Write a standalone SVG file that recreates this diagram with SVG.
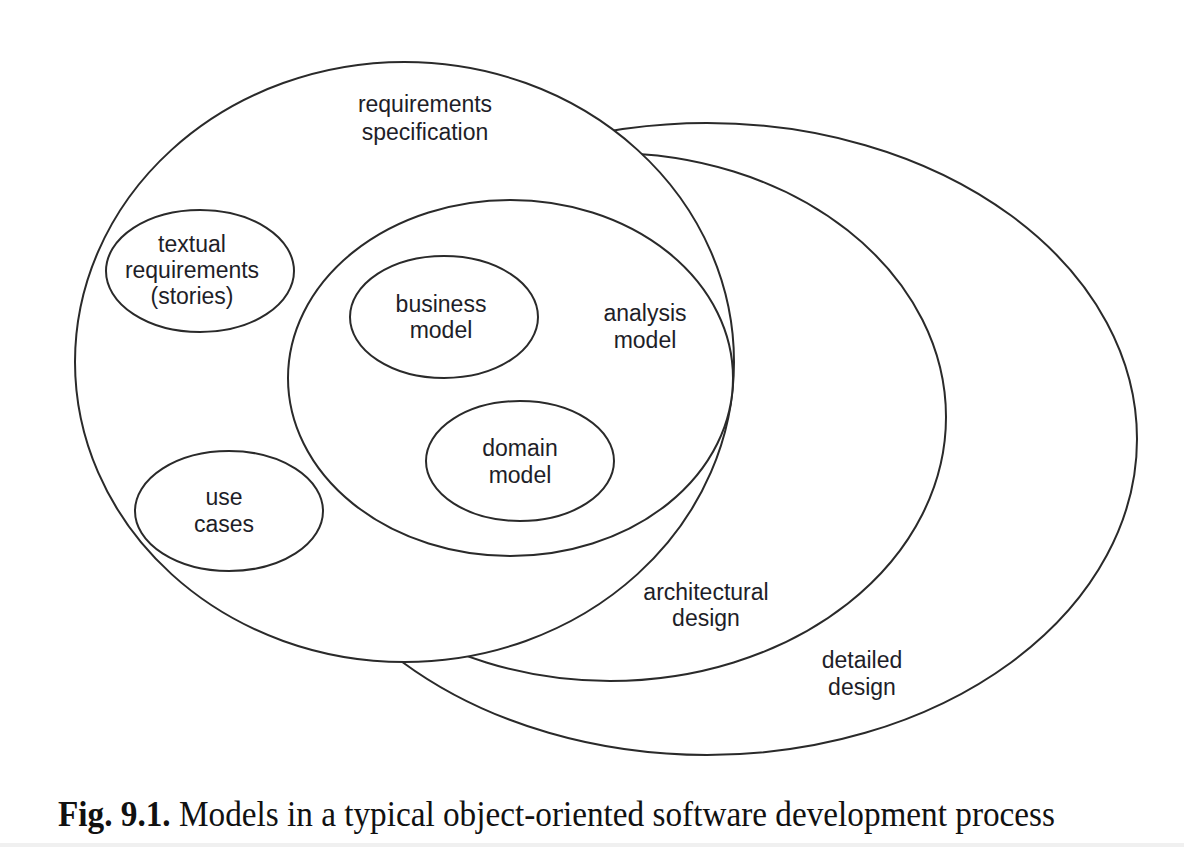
<svg xmlns="http://www.w3.org/2000/svg" width="1184" height="847" viewBox="0 0 1184 847">
  <style>
    .e { fill: #ffffff; stroke: #2a2a2a; stroke-width: 2; }
    .t { font-family: "Liberation Sans", Arial, sans-serif; font-size: 23px; fill: #1e1e28; text-anchor: middle; }
    .cap { font-family: "Liberation Serif", "Times New Roman", serif; font-size: 36px; fill: #111111; }
  </style>
  <rect x="0" y="0" width="1184" height="847" fill="#ffffff"/>
  <rect x="0" y="843" width="1184" height="4" fill="#f0f0f0"/>

  <g id="detailed-design">
    <ellipse class="e" cx="707" cy="439" rx="430" ry="316"/>
    <text class="t" x="862" y="668">detailed</text>
    <text class="t" x="862" y="695">design</text>
  </g>

  <g id="architectural-design">
    <ellipse class="e" cx="610" cy="417" rx="336" ry="264"/>
    <text class="t" x="706" y="600">architectural</text>
    <text class="t" x="706" y="626">design</text>
  </g>

  <g id="requirements-specification">
    <ellipse class="e" cx="404.5" cy="362" rx="329.5" ry="300"/>
    <text class="t" x="425" y="112">requirements</text>
    <text class="t" x="425" y="140">specification</text>
  </g>

  <g id="textual-requirements">
    <ellipse class="e" cx="200" cy="271" rx="94" ry="61"/>
    <text class="t" x="192" y="252">textual</text>
    <text class="t" x="192" y="278">requirements</text>
    <text class="t" x="192" y="304">(stories)</text>
  </g>

  <g id="use-cases">
    <ellipse class="e" cx="229" cy="511" rx="94" ry="60"/>
    <text class="t" x="224" y="505">use</text>
    <text class="t" x="224" y="532">cases</text>
  </g>

  <g id="analysis-model">
    <ellipse class="e" cx="510.5" cy="378" rx="222.5" ry="178"/>
    <text class="t" x="645" y="321">analysis</text>
    <text class="t" x="645" y="348">model</text>
  </g>

  <g id="business-model">
    <ellipse class="e" cx="444" cy="317" rx="94" ry="61"/>
    <text class="t" x="441" y="312">business</text>
    <text class="t" x="441" y="338">model</text>
  </g>

  <g id="domain-model">
    <ellipse class="e" cx="520" cy="461" rx="94" ry="60"/>
    <text class="t" x="520" y="456">domain</text>
    <text class="t" x="520" y="483">model</text>
  </g>

  <g id="connectors"/>

  <g id="caption">
    <text class="cap" x="58" y="826" textLength="997" lengthAdjust="spacingAndGlyphs"><tspan font-weight="bold">Fig. 9.1.</tspan> Models in a typical object-oriented software development process</text>
  </g>
</svg>
